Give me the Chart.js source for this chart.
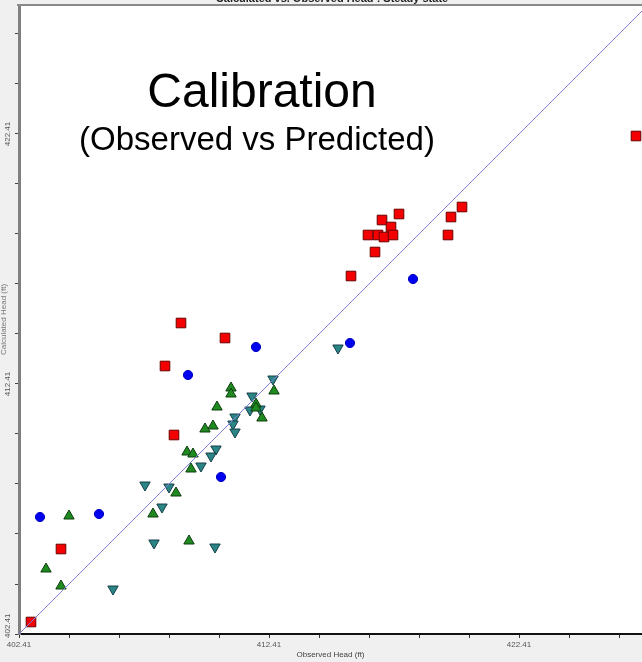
<!DOCTYPE html>
<html>
<head>
<meta charset="utf-8">
<title>Calculated vs. Observed Head</title>
<script src="https://cdn.jsdelivr.net/npm/chart.js@4/dist/chart.umd.min.js"></script>
<style>
  html, body { margin: 0; padding: 0; background: #f0f0f0; overflow: hidden; }
  #wrap { position: relative; width: 642px; height: 662px; }
  #c { display: block; }
</style>
</head>
<body>
<div id="wrap"><canvas id="c"></canvas></div>
<script>
// Observed (x) and calculated (y) heads, in ft, per marker group
const squareObserved   = [402.89, 404.09, 408.89, 408.25, 410.65, 408.61, 415.69, 427.09, 417.61, 416.93, 417.29, 416.37, 416.77, 417.01, 417.37, 416.65, 420.13, 419.69, 419.57];
const squareCalculated = [402.89, 405.81, 414.85, 413.13, 414.25, 410.37, 416.73, 422.33, 419.21, 418.97, 418.69, 418.37, 418.37, 418.29, 418.37, 417.69, 419.49, 419.09, 418.37];

const circleObserved   = [403.25, 405.61, 409.17, 411.89, 410.49, 415.65, 418.17];
const circleCalculated = [407.09, 407.21, 412.77, 413.89, 408.69, 414.05, 416.61];

const upObserved   = [404.41, 403.49, 404.09, 410.89, 410.89, 412.61, 410.33, 411.89, 411.89, 412.13, 410.17, 409.85, 409.13, 409.37, 409.29, 408.69, 407.77, 409.21];
const upCalculated = [407.13, 405.01, 404.33, 412.25, 412.01, 412.13, 411.49, 411.61, 411.45, 411.05, 410.73, 410.61, 409.69, 409.61, 409.01, 408.05, 407.21, 406.13];

const downObserved   = [412.57, 411.73, 411.65, 412.05, 411.05, 410.97, 411.05, 410.29, 410.09, 409.69, 407.45, 408.41, 408.13, 407.81, 410.25, 406.17, 415.17];
const downCalculated = [412.61, 411.93, 411.37, 411.41, 411.09, 410.81, 410.49, 409.81, 409.53, 409.13, 408.37, 408.29, 407.49, 406.05, 405.89, 404.21, 413.85];

// 1:1 reference line
const unityLine = [402.41, 428.0];

// Axis ticks (every 2 ft, labelled every 10 ft)
const tickValues = [402.41, 404.41, 406.41, 408.41, 410.41, 412.41, 414.41, 416.41, 418.41, 420.41, 422.41, 424.41, 426.41];
const tickLabels = ['402.41', '', '', '', '', '412.41', '', '', '', '', '422.41', '', ''];

const chartTitle = 'Calculated vs. Observed Head : Steady state';
const xTitle = 'Observed Head (ft)';
const yTitle = 'Calculated Head (ft)';
const noteMain = 'Calibration';
const noteSub = '(Observed vs Predicted)';

const pairs = (xs, ys) => xs.map((x, i) => ({ x, y: ys[i] }));

Chart.defaults.font.family = "'Liberation Sans', Arial, sans-serif";

const decorations = {
  id: 'decorations',
  beforeDraw(chart) {
    const { ctx, chartArea: a, width, height } = chart;
    ctx.save();
    ctx.fillStyle = '#f0f0f0';
    ctx.fillRect(0, 0, width, height);
    ctx.fillStyle = '#ffffff';
    ctx.fillRect(a.left, a.top, a.right - a.left, a.bottom - a.top);
    ctx.restore();
  },
  afterDraw(chart) {
    const { ctx, chartArea: a } = chart;
    const ys = chart.scales.y;
    ctx.save();
    // top frame rule
    ctx.strokeStyle = '#8a8a8a';
    ctx.lineWidth = 2;
    ctx.beginPath();
    ctx.moveTo(a.left - 2, a.top);
    ctx.lineTo(chart.width, a.top);
    ctx.stroke();

    // chart title (sits above the frame)
    ctx.fillStyle = '#222';
    ctx.font = "bold 11px 'Liberation Sans', Arial, sans-serif";
    ctx.textAlign = 'center';
    ctx.textBaseline = 'alphabetic';
    ctx.fillText(chartTitle, 332, 2);

    // rotated y tick labels, kept above the x axis line
    ctx.fillStyle = '#555';
    ctx.font = "8px 'Liberation Sans', Arial, sans-serif";
    ctx.textBaseline = 'middle';
    tickValues.forEach((v, i) => {
      if (!tickLabels[i]) return;
      const half = ctx.measureText(tickLabels[i]).width / 2;
      const py = Math.min(ys.getPixelForValue(v), a.bottom + 4 - half);
      ctx.save();
      ctx.translate(8, py);
      ctx.rotate(-Math.PI / 2);
      ctx.textAlign = 'center';
      ctx.fillText(tickLabels[i], 0, 0);
      ctx.restore();
    });

    // y axis title
    ctx.save();
    ctx.fillStyle = '#777';
    ctx.translate(4, (a.top + a.bottom) / 2);
    ctx.rotate(-Math.PI / 2);
    ctx.textAlign = 'center';
    ctx.fillText(yTitle, 0, 0);
    ctx.restore();

    // headline notes
    ctx.fillStyle = '#000';
    ctx.textAlign = 'center';
    ctx.textBaseline = 'alphabetic';
    ctx.font = "48px 'Liberation Sans', Arial, sans-serif";
    ctx.fillText(noteMain, 262, 107);
    ctx.font = "33px 'Liberation Sans', Arial, sans-serif";
    ctx.fillText(noteSub, 257, 150);
    ctx.restore();
  }
};

new Chart(document.getElementById('c'), {
  type: 'scatter',
  data: {
    datasets: [
      {
        type: 'line',
        label: '1:1',
        data: pairs(unityLine, unityLine),
        borderColor: '#7e7edc',
        borderWidth: 1,
        pointRadius: 0,
        order: 0
      },
      {
        label: 'Squares',
        data: pairs(squareObserved, squareCalculated),
        pointStyle: 'rect',
        pointRadius: 6.8,
        backgroundColor: '#f40000',
        borderColor: '#6a0000',
        borderWidth: 1,
        order: 1
      },
      {
        label: 'Circles',
        data: pairs(circleObserved, circleCalculated),
        pointStyle: 'circle',
        pointRadius: 4.6,
        backgroundColor: '#0000f0',
        borderColor: '#0000c0',
        borderWidth: 1,
        order: 2
      },
      {
        label: 'Triangles up',
        data: pairs(upObserved, upCalculated),
        pointStyle: 'triangle',
        pointRadius: 6,
        backgroundColor: '#1f8a1f',
        borderColor: '#0d3d0d',
        borderWidth: 1,
        order: 3
      },
      {
        label: 'Triangles down',
        data: pairs(downObserved, downCalculated),
        pointStyle: 'triangle',
        rotation: 180,
        pointRadius: 6,
        backgroundColor: '#2a8585',
        borderColor: '#173f4a',
        borderWidth: 1,
        order: 4
      }
    ]
  },
  options: {
    responsive: true,
    maintainAspectRatio: false,
    animation: false,
    layout: { autoPadding: false, padding: { top: 5, left: 0, right: 0, bottom: 0 } },
    plugins: {
      legend: { display: false },
      tooltip: { enabled: false },
      title: { display: false }
    },
    scales: {
      x: {
        type: 'linear',
        min: 402.41,
        max: 427.33,
        afterBuildTicks: s => { s.ticks = tickValues.map(v => ({ value: v })); },
        afterFit: s => { s.height = 28; },
        ticks: {
          autoSkip: false,
          maxRotation: 0,
          padding: 2,
          color: '#555',
          font: { size: 8 },
          callback: (v, i) => tickLabels[i]
        },
        grid: { drawOnChartArea: false, tickLength: 4, color: '#333' },
        border: { color: '#111', width: 2 },
        title: {
          display: true,
          text: xTitle,
          color: '#444',
          font: { size: 8 },
          padding: { top: 0, bottom: 2 }
        }
      },
      y: {
        type: 'linear',
        min: 402.41,
        max: 427.57,
        afterBuildTicks: s => { s.ticks = tickValues.map(v => ({ value: v })); },
        afterFit: s => { s.width = 19; },
        ticks: { display: false },
        grid: { drawOnChartArea: false, tickLength: 4, color: '#444' },
        border: { color: '#808080', width: 3 }
      }
    }
  },
  plugins: [decorations]
});
</script>
</body>
</html>
